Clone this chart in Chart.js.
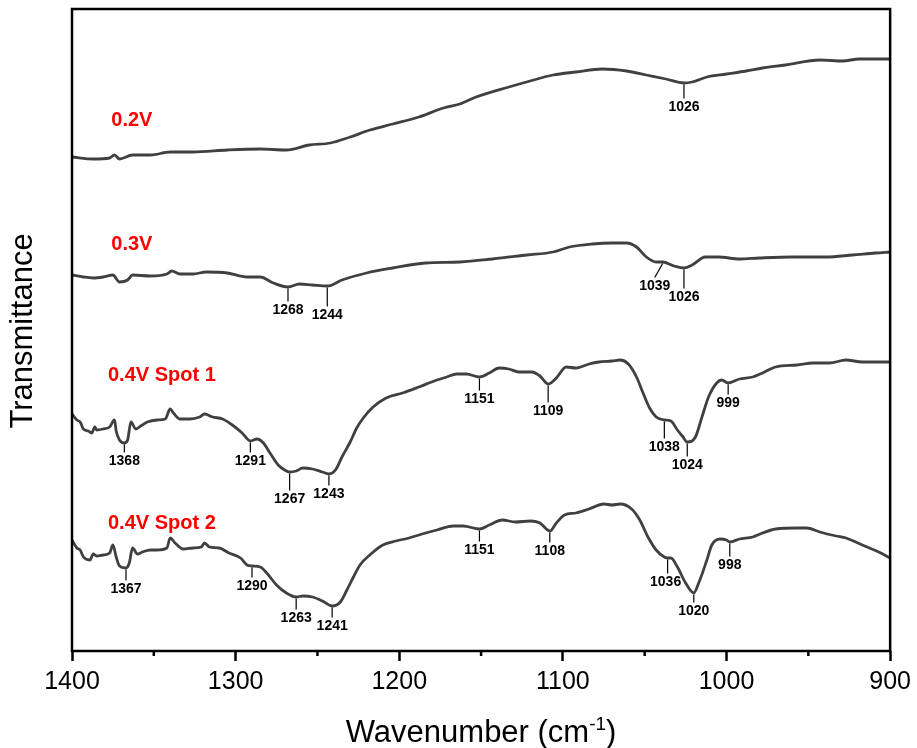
<!DOCTYPE html>
<html>
<head>
<meta charset="utf-8">
<title>FTIR spectra</title>
<script src="https://cdn.jsdelivr.net/npm/chart.js@4.4.1/dist/chart.umd.min.js"></script>
<style>
  html, body { margin: 0; padding: 0; background: #fff; }
  canvas { display: block; }
</style>
</head>
<body>
<canvas id="spectra" width="917" height="748"></canvas>
<script>
// wavenumber (cm-1) and offset transmittance (a.u.) for each spectrum
const wn02 = [1400, 1387, 1377, 1374, 1371, 1363, 1352, 1340, 1326, 1305, 1285, 1269, 1255, 1242, 1230, 1218, 1204, 1188, 1173, 1163, 1153, 1133, 1120, 1106, 1092, 1076, 1061, 1049, 1037, 1026, 1021, 1012, 1000, 988, 978, 964, 943, 929, 919, 900];
const t02 = [4.94, 4.92, 4.93, 4.96, 4.92, 4.96, 4.96, 4.99, 4.99, 5.01, 5.02, 5.01, 5.06, 5.08, 5.14, 5.21, 5.27, 5.34, 5.43, 5.47, 5.54, 5.64, 5.70, 5.76, 5.79, 5.82, 5.80, 5.76, 5.72, 5.68, 5.69, 5.74, 5.77, 5.80, 5.83, 5.86, 5.91, 5.90, 5.92, 5.92];

const wn03 = [1400, 1393, 1387, 1381, 1375, 1371, 1366, 1363, 1352, 1342, 1339, 1334, 1326, 1318, 1305, 1293, 1285, 1277, 1268, 1261, 1253, 1244, 1235, 1220, 1204, 1184, 1163, 1143, 1122, 1106, 1096, 1082, 1070, 1061, 1055, 1049, 1043, 1039, 1032, 1026, 1021, 1013, 1005, 992, 980, 960, 939, 923, 909, 900];
const t03 = [3.76, 3.74, 3.73, 3.74, 3.76, 3.69, 3.71, 3.76, 3.75, 3.77, 3.80, 3.77, 3.77, 3.79, 3.78, 3.74, 3.74, 3.68, 3.64, 3.67, 3.66, 3.65, 3.71, 3.78, 3.83, 3.88, 3.89, 3.92, 3.96, 3.99, 4.04, 4.07, 4.08, 4.08, 4.04, 3.94, 3.89, 3.89, 3.85, 3.83, 3.86, 3.94, 3.94, 3.92, 3.93, 3.94, 3.94, 3.96, 3.98, 3.99];

const wnS1 = [1400, 1397, 1395, 1393, 1390, 1388, 1386, 1385, 1381, 1377, 1374, 1373, 1371, 1368, 1366, 1364, 1361, 1358, 1354, 1348, 1343, 1340, 1338, 1334, 1328, 1322, 1319, 1314, 1308, 1302, 1296, 1291, 1287, 1283, 1279, 1274, 1270, 1267, 1263, 1259, 1253, 1247, 1243, 1239, 1235, 1230, 1226, 1222, 1216, 1208, 1198, 1188, 1177, 1171, 1165, 1159, 1151, 1145, 1139, 1133, 1127, 1119, 1114, 1109, 1104, 1098, 1092, 1084, 1078, 1070, 1065, 1060, 1055, 1051, 1047, 1043, 1038, 1034, 1030, 1027, 1024, 1019, 1015, 1011, 1006, 1003, 999, 992, 984, 978, 970, 957, 947, 937, 927, 917, 907, 900];
const tS1 = [2.37, 2.31, 2.29, 2.22, 2.20, 2.18, 2.24, 2.21, 2.22, 2.24, 2.31, 2.20, 2.11, 2.08, 2.11, 2.29, 2.22, 2.25, 2.29, 2.31, 2.32, 2.42, 2.38, 2.32, 2.32, 2.34, 2.37, 2.34, 2.32, 2.26, 2.18, 2.10, 2.12, 2.08, 1.98, 1.86, 1.81, 1.79, 1.80, 1.83, 1.82, 1.79, 1.77, 1.81, 1.94, 2.09, 2.23, 2.33, 2.44, 2.53, 2.58, 2.64, 2.71, 2.74, 2.77, 2.77, 2.74, 2.78, 2.83, 2.82, 2.79, 2.79, 2.75, 2.67, 2.73, 2.84, 2.83, 2.87, 2.89, 2.90, 2.91, 2.87, 2.74, 2.58, 2.43, 2.34, 2.31, 2.30, 2.21, 2.15, 2.09, 2.14, 2.34, 2.54, 2.68, 2.71, 2.68, 2.72, 2.74, 2.78, 2.84, 2.86, 2.88, 2.88, 2.91, 2.89, 2.89, 2.89];

const wnS2 = [1400, 1397, 1395, 1393, 1389, 1387, 1385, 1381, 1377, 1375, 1373, 1371, 1367, 1365, 1363, 1360, 1357, 1352, 1348, 1342, 1340, 1337, 1332, 1326, 1321, 1319, 1316, 1310, 1304, 1297, 1293, 1290, 1285, 1281, 1275, 1269, 1263, 1259, 1253, 1247, 1241, 1236, 1232, 1228, 1224, 1218, 1210, 1202, 1194, 1186, 1177, 1167, 1161, 1151, 1145, 1137, 1129, 1120, 1114, 1108, 1104, 1099, 1092, 1084, 1075, 1070, 1065, 1058, 1053, 1048, 1043, 1038, 1036, 1034, 1030, 1025, 1020, 1017, 1012, 1009, 1004, 1000, 998, 992, 984, 978, 970, 957, 951, 943, 933, 927, 917, 907, 900];
const tS2 = [1.11, 1.03, 1.01, 0.94, 0.91, 0.97, 0.95, 0.96, 0.98, 1.06, 0.94, 0.85, 0.83, 0.88, 1.03, 0.97, 0.99, 1.01, 1.01, 1.03, 1.13, 1.08, 1.02, 1.03, 1.04, 1.08, 1.04, 1.03, 0.98, 0.93, 0.86, 0.85, 0.84, 0.78, 0.66, 0.58, 0.54, 0.55, 0.54, 0.50, 0.45, 0.49, 0.61, 0.74, 0.86, 0.96, 1.06, 1.10, 1.13, 1.17, 1.21, 1.25, 1.25, 1.22, 1.26, 1.31, 1.29, 1.30, 1.28, 1.20, 1.28, 1.36, 1.38, 1.42, 1.47, 1.46, 1.47, 1.42, 1.31, 1.14, 1.01, 0.94, 0.93, 0.93, 0.84, 0.68, 0.58, 0.68, 0.91, 1.06, 1.12, 1.11, 1.09, 1.12, 1.14, 1.18, 1.22, 1.23, 1.23, 1.19, 1.15, 1.13, 1.06, 0.99, 0.93];

const seriesNames = ["0.2V", "0.3V", "0.4V Spot 1", "0.4V Spot 2"];

// assigned band positions (cm-1)
const peaks02 = [1026];
const peaks03 = [1268, 1244, 1039, 1026];
const peaksS1 = [1368, 1291, 1267, 1243, 1151, 1109, 1038, 1024, 999];
const peaksS2 = [1367, 1290, 1263, 1241, 1151, 1108, 1036, 1020, 998];

const xTicks = [1400, 1300, 1200, 1100, 1000, 900];
const xMinorTicks = [1350, 1250, 1150, 1050, 950];

const spectra = [
  { wn: wn02, t: t02, peaks: peaks02 },
  { wn: wn03, t: t03, peaks: peaks03 },
  { wn: wnS1, t: tS1, peaks: peaksS1 },
  { wn: wnS2, t: tS2, peaks: peaksS2 },
];

// leader line length / sideways shift for each band label
const leaderStyle = [
  { 1026: { len: 14 } },
  { 1268: { len: 13 }, 1244: { len: 19 }, 1039: { len: 14, dx: -8 }, 1026: { len: 19 } },
  { 1368: { len: 8 }, 1291: { len: 10 }, 1267: { len: 17 }, 1243: { len: 10 }, 1151: { len: 12 },
    1109: { len: 17 }, 1038: { len: 17 }, 1024: { len: 13 }, 999: { len: 10 } },
  { 1367: { len: 11 }, 1290: { len: 10 }, 1263: { len: 11 }, 1241: { len: 10 }, 1151: { len: 11 },
    1108: { len: 10 }, 1036: { len: 14, ldx: -2 }, 1020: { len: 8 }, 998: { len: 13 } },
];

// where each spectrum name sits, in axis units
const namePos = [
  { x: 1376, y: 5.31 },
  { x: 1376, y: 4.07 },
  { x: 1378, y: 2.76 },
  { x: 1378, y: 1.28 },
];

const FONT = '"Liberation Sans", Arial, sans-serif';

function valueAt(wn, t, x) {
  for (let i = 0; i < wn.length - 1; i++) {
    const a = wn[i], b = wn[i + 1];
    if ((x <= a && x >= b) || (x >= a && x <= b)) {
      const f = (x - a) / (b - a);
      return t[i] + f * (t[i + 1] - t[i]);
    }
  }
  return t[t.length - 1];
}

const decorations = {
  id: "decorations",
  afterDatasetsDraw(chart) {
    const { ctx, chartArea } = chart;
    const xs = chart.scales.x;
    const ys = chart.scales.y;

    // band labels with leader lines
    ctx.save();
    ctx.strokeStyle = "#000";
    ctx.fillStyle = "#000";
    ctx.lineWidth = 1.2;
    ctx.font = "bold 14px " + FONT;
    ctx.textAlign = "center";
    ctx.textBaseline = "middle";
    spectra.forEach((s, si) => {
      s.peaks.forEach((p) => {
        const st = leaderStyle[si][p] || { len: 10 };
        const dx = st.dx || 0;
        const ldx = st.ldx || 0;
        const x = xs.getPixelForValue(p);
        const y = ys.getPixelForValue(valueAt(s.wn, s.t, p)) + 1.5;
        ctx.beginPath();
        ctx.moveTo(x, y);
        ctx.lineTo(x + dx, y + st.len);
        ctx.stroke();
        ctx.fillText(String(p), x + dx + ldx, y + st.len + 9);
      });
    });
    ctx.restore();

    // spectrum names
    ctx.save();
    ctx.fillStyle = "#ff0000";
    ctx.font = "bold 20px " + FONT;
    ctx.textAlign = "left";
    ctx.textBaseline = "middle";
    seriesNames.forEach((name, i) => {
      ctx.fillText(name, xs.getPixelForValue(namePos[i].x), ys.getPixelForValue(namePos[i].y));
    });
    ctx.restore();

    // minor ticks
    ctx.save();
    ctx.strokeStyle = "#000";
    ctx.lineWidth = 2.5;
    xMinorTicks.forEach((v) => {
      const x = xs.getPixelForValue(v);
      ctx.beginPath();
      ctx.moveTo(x, chartArea.bottom);
      ctx.lineTo(x, chartArea.bottom + 5);
      ctx.stroke();
    });

    // frame
    ctx.lineWidth = 2.5;
    ctx.strokeRect(chartArea.left, chartArea.top, chartArea.right - chartArea.left, chartArea.bottom - chartArea.top);
    ctx.restore();
  },
  afterDraw(chart) {
    const { ctx, chartArea } = chart;
    ctx.save();
    ctx.fillStyle = "#000";

    // y title
    ctx.font = "31px " + FONT;
    ctx.textAlign = "center";
    ctx.textBaseline = "middle";
    ctx.translate(23, 331);
    ctx.rotate(-Math.PI / 2);
    ctx.fillText("Transmittance", 0, 0);
    ctx.setTransform(1, 0, 0, 1, 0, 0);

    // x title with superscript
    const main = "Wavenumber (cm";
    const sup = "-1";
    const end = ")";
    ctx.textAlign = "left";
    ctx.textBaseline = "alphabetic";
    ctx.font = "31px " + FONT;
    const wMain = ctx.measureText(main).width;
    const wEnd = ctx.measureText(end).width;
    ctx.font = "19px " + FONT;
    const wSup = ctx.measureText(sup).width;
    const total = wMain + wSup + wEnd;
    let x = (chartArea.left + chartArea.right) / 2 - total / 2;
    const base = 742;
    ctx.font = "31px " + FONT;
    ctx.fillText(main, x, base);
    x += wMain;
    ctx.font = "19px " + FONT;
    ctx.fillText(sup, x, base - 12);
    x += wSup;
    ctx.font = "31px " + FONT;
    ctx.fillText(end, x, base);
    ctx.restore();
  },
};

const datasets = spectra.map((s, i) => ({
  label: seriesNames[i],
  data: s.wn.map((w, j) => ({ x: w, y: s.t[j] })),
  borderColor: "#404040",
  borderWidth: 2.8,
  pointRadius: 0,
  fill: false,
  cubicInterpolationMode: "monotone",
}));

new Chart(document.getElementById("spectra"), {
  type: "line",
  data: { datasets },
  options: {
    responsive: false,
    animation: false,
    devicePixelRatio: 1,
    layout: { padding: { top: 9, right: 26, left: 0, bottom: 0 } },
    plugins: {
      legend: { display: false },
      tooltip: { enabled: false },
    },
    scales: {
      x: {
        type: "linear",
        reverse: true,
        min: 900,
        max: 1400,
        afterBuildTicks: (scale) => {
          scale.ticks = xTicks.map((v) => ({ value: v }));
        },
        afterFit: (scale) => {
          scale.height = 97;
        },
        ticks: {
          color: "#000",
          font: { family: FONT, size: 25 },
          padding: 6,
          maxRotation: 0,
          autoSkip: false,
          callback: (v) => String(v),
        },
        grid: {
          display: true,
          drawOnChartArea: false,
          tickLength: 10,
          tickWidth: 2.5,
          tickColor: "#000",
        },
        border: { display: false },
      },
      y: {
        min: 0,
        max: 6.42,
        afterFit: (scale) => {
          scale.width = 72;
        },
        ticks: { display: false },
        grid: { display: false },
        border: { display: false },
      },
    },
  },
  plugins: [decorations],
});
</script>
</body>
</html>
